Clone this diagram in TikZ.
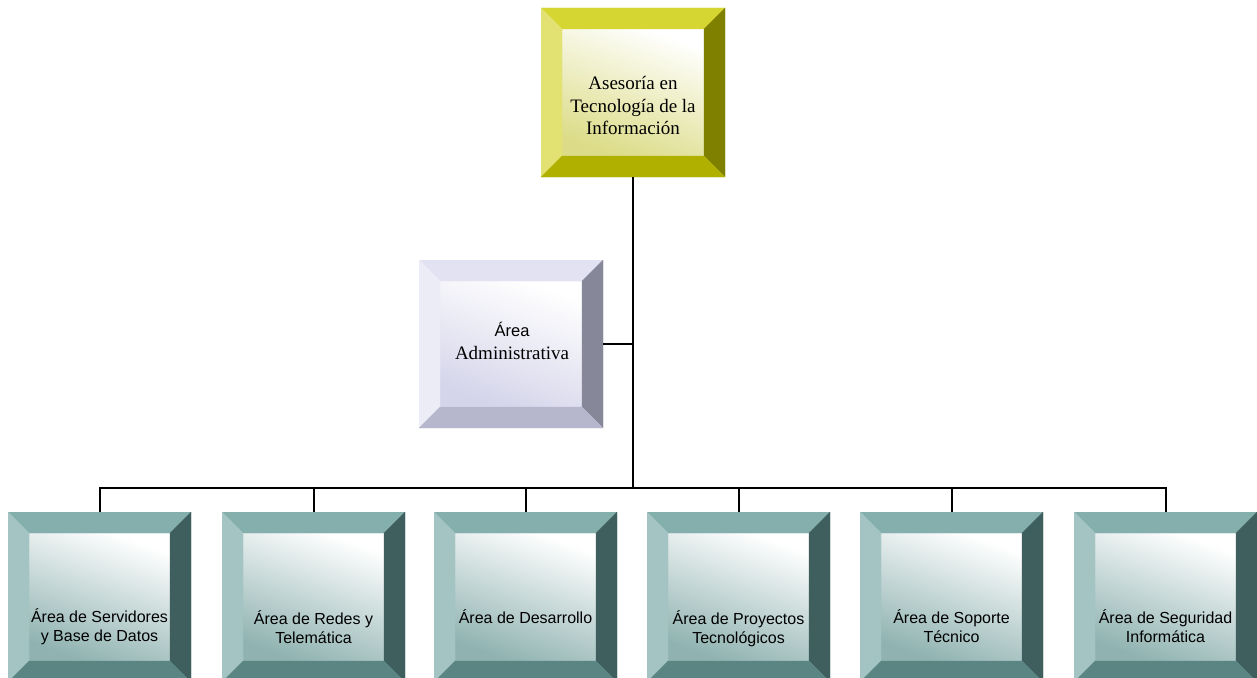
\documentclass[tikz,border=0pt]{standalone}
\usepackage{fontspec}
\setmainfont{Liberation Serif}
\setsansfont{Liberation Sans}
\usetikzlibrary{calc}

% bevel colours: top, left, right, bottom, face shade
\definecolor{olTop}{HTML}{D6D632}
\definecolor{olLeft}{HTML}{E2E272}
\definecolor{olRight}{HTML}{7F7F00}
\definecolor{olBot}{HTML}{B0B000}
\definecolor{olFace}{HTML}{DCDC88}
\definecolor{lvTop}{HTML}{E2E2F2}
\definecolor{lvLeft}{HTML}{ECECF7}
\definecolor{lvRight}{HTML}{87879A}
\definecolor{lvBot}{HTML}{B6B6CC}
\definecolor{lvFace}{HTML}{D4D4EA}
\definecolor{tlTop}{HTML}{84AFAD}
\definecolor{tlLeft}{HTML}{A3C4C2}
\definecolor{tlRight}{HTML}{3F5F5E}
\definecolor{tlBot}{HTML}{5A8583}
\definecolor{tlFace}{HTML}{90B3B1}

\tikzset{
  bevelbox/.style n args={5}{
    draw=none, inner sep=0pt,
    path picture={
      \coordinate (nw) at (path picture bounding box.north west);
      \coordinate (ne) at (path picture bounding box.north east);
      \coordinate (sw) at (path picture bounding box.south west);
      \coordinate (se) at (path picture bounding box.south east);
      \coordinate (inw) at ($(nw)+(21pt,-21pt)$);
      \coordinate (ine) at ($(ne)+(-21pt,-21pt)$);
      \coordinate (isw) at ($(sw)+(21pt,21pt)$);
      \coordinate (ise) at ($(se)+(-21pt,21pt)$);
      \shade[top color=white, middle color=white, bottom color=#5, shading angle=-20]
        (isw) rectangle (ine);
      \filldraw[#1, line width=0.3pt] (nw) -- (ne) -- (ine) -- (inw) -- cycle;
      \filldraw[#2, line width=0.3pt] (nw) -- (inw) -- (isw) -- (sw) -- cycle;
      \filldraw[#3, line width=0.3pt] (ne) -- (se) -- (ise) -- (ine) -- cycle;
      \filldraw[#4, line width=0.3pt] (sw) -- (isw) -- (ise) -- (se) -- cycle;
    }
  },
  olivebox/.style={bevelbox={olTop}{olLeft}{olRight}{olBot}{olFace},
    minimum width=184pt, minimum height=169pt},
  lavbox/.style={bevelbox={lvTop}{lvLeft}{lvRight}{lvBot}{lvFace},
    minimum width=184pt, minimum height=168pt},
  tealbox/.style={bevelbox={tlTop}{tlLeft}{tlRight}{tlBot}{tlFace},
    minimum width=183pt, minimum height=170pt},
  conn/.style={line width=2pt, black},
  seriflabel/.style={align=center, inner sep=0pt,
    font=\fontsize{19}{22.5}\selectfont},
  unitlabel/.style={align=center, inner sep=0pt,
    font=\sffamily\fontsize{16}{18.8}\selectfont},
}

\begin{document}
\begin{tikzpicture}[x=1pt, y=-1pt]
  \useasboundingbox (0,0) rectangle (1257,677);
  \clip (0,0) rectangle (1257,677);

  % boxes
  \node[olivebox] (top) at (633,92.5) {};
  \node[lavbox] (admin) at (511,344) {};
  \node[tealbox] (b1) at (99.5,597) {};
  \node[tealbox] (b2) at (313.5,597) {};
  \node[tealbox] (b3) at (525.5,597) {};
  \node[tealbox] (b4) at (738.5,597) {};
  \node[tealbox] (b5) at (951.5,597) {};
  \node[tealbox] (b6) at (1165.5,597) {};

  % connectors
  \coordinate (hub) at (633,488);
  \draw[conn] (top.south) -- (hub);
  \draw[conn, line width=1.6pt] (admin.east) -- (admin.east -| top.south);
  \foreach \b in {b1,b2,b3,b4,b5,b6}
    \draw[conn] (hub) -| (\b.north);

  % labels
  \node[seriflabel] (topt) at (633,105.5)
    {Asesoría en\\Tecnología de la\\Información};
  \node[seriflabel] (admint) at (512,341)
    {{\sffamily\fontsize{16.5}{21}\selectfont Área}\\Administrativa};
  \node[unitlabel] (t1) at (99.5,626.5) {Área de Servidores\\y Base de Datos};
  \node[unitlabel] (t2) at (313.5,627) {Área de Redes y\\Telemática};
  \node[unitlabel] (t3) at (525.5,617) {Área de Desarrollo};
  \node[unitlabel] (t4) at (738.5,629) {Área de Proyectos\\Tecnológicos};
  \node[unitlabel] (t5) at (951.5,626.5) {Área de Soporte\\Técnico};
  \node[unitlabel] (t6) at (1165.5,626.5) {Área de Seguridad\\Informática};
\end{tikzpicture}
\end{document}
